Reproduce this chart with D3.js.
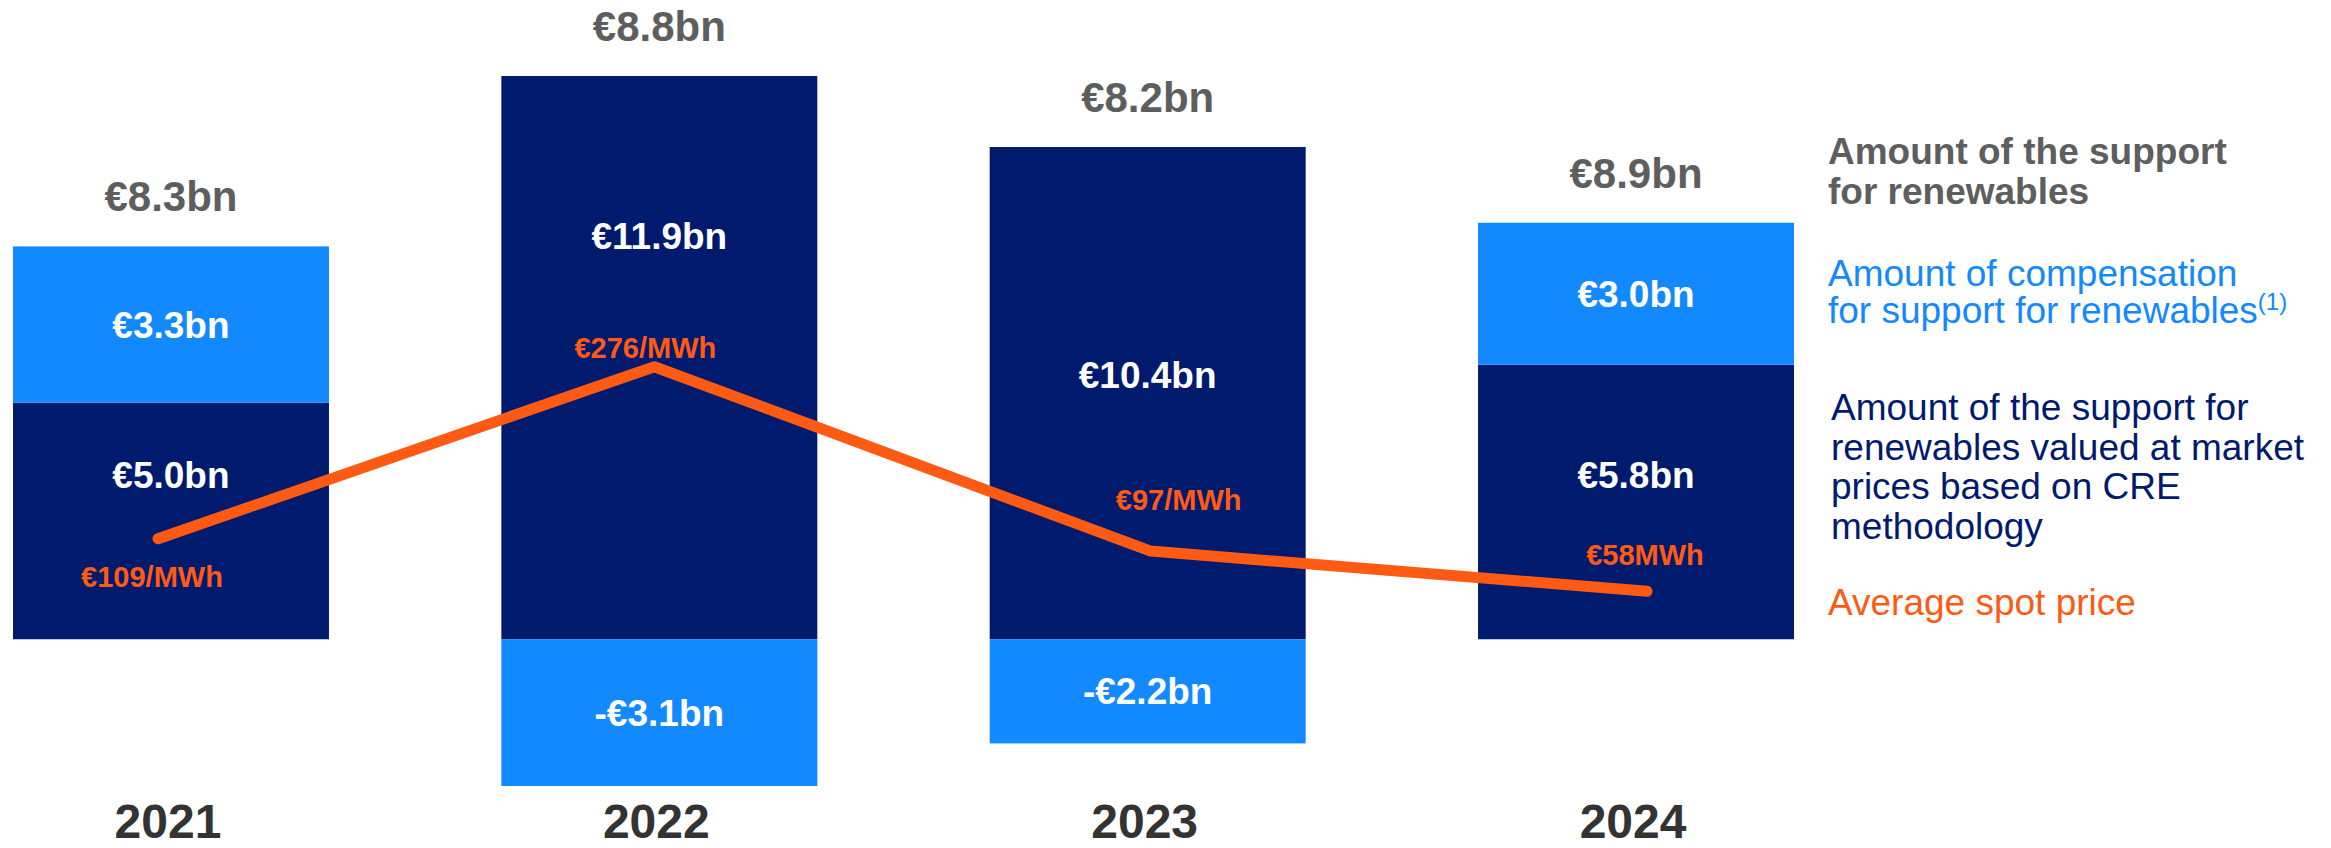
<!DOCTYPE html>
<html>
<head>
<meta charset="utf-8">
<script src="https://cdn.jsdelivr.net/npm/d3@7/dist/d3.min.js"></script>
<style>
  html, body { margin: 0; padding: 0; background: #ffffff; }
  svg { display: block; }
  text { font-family: "Liberation Sans", Arial, Helvetica, sans-serif; }
</style>
</head>
<body>
<svg id="chart" width="2331" height="848"></svg>
<script>
// ---------------- data ----------------
const years = ["2021", "2022", "2023", "2024"];
const marketValue = [5.0, 11.9, 10.4, 5.8];        // support valued at market prices (bn €)
const compensation = [3.3, -3.1, -2.2, 3.0];       // compensation for support (bn €)
const totalSupport = [8.3, 8.8, 8.2, 8.9];         // total support (bn €)
const spotPrice = [109, 276, 97, 58];              // average spot price (€/MWh)
const totalLabels = ["€8.3bn", "€8.8bn", "€8.2bn", "€8.9bn"];
const marketLabels = ["€5.0bn", "€11.9bn", "€10.4bn", "€5.8bn"];
const compLabels = ["€3.3bn", "-€3.1bn", "-€2.2bn", "€3.0bn"];
const priceLabels = ["€109/MWh", "€276/MWh", "€97/MWh", "€58MWh"];

// ---------------- layout / styles ----------------
const C = {
  navy: "#001A6E",
  blue: "#1289FF",
  orange: "#FF5A14",
  gray: "#5E5E5E",
  year: "#333333"
};
// label placements (annotation layout, not data)
const marketLabelAt = [3.2, 8.25, 5.3, 3.2];                 // baseline position in bn units
const priceLabelOffset = [[-6, 48], [-9, -9], [28, -41], [-2, -26]]; // px from line point

const svg = d3.select("#chart");

const x = d3.scaleBand().domain(years).range([13, 1794]).paddingInner(0.353).paddingOuter(0);
const y = d3.scaleLinear().domain([-3.1, 11.9]).range([786, 76]);
const xLine = d3.scalePoint().domain(years).range([158, 1647]);
const yPrice = d3.scaleLinear().domain([0, 300]).range([651, 342]);

const rows = years.map((yr, i) => ({
  year: yr,
  market: marketValue[i],
  comp: compensation[i],
  total: totalSupport[i],
  price: spotPrice[i],
  i
}));

// dark segments (market value)
svg.append("g").selectAll("rect").data(rows).join("rect")
  .attr("x", d => x(d.year))
  .attr("width", x.bandwidth())
  .attr("y", d => y(d.market))
  .attr("height", d => y(0) - y(d.market))
  .attr("fill", C.navy);

// light segments (compensation)
const compTop = d => d.comp >= 0 ? d.market + d.comp : 0;
const compBot = d => d.comp >= 0 ? d.market : d.comp;
svg.append("g").selectAll("rect").data(rows).join("rect")
  .attr("x", d => x(d.year))
  .attr("width", x.bandwidth())
  .attr("y", d => y(compTop(d)))
  .attr("height", d => y(compBot(d)) - y(compTop(d)))
  .attr("fill", C.blue);

// spot price line
const line = d3.line().x(d => xLine(d.year)).y(d => yPrice(d.price));
svg.append("path").datum(rows)
  .attr("d", line)
  .attr("fill", "none")
  .attr("stroke", C.orange)
  .attr("stroke-width", 11)
  .attr("stroke-linecap", "round")
  .attr("stroke-linejoin", "round");

const cx = d => x(d.year) + x.bandwidth() / 2;

// total labels above bars
svg.append("g").selectAll("text").data(rows).join("text")
  .attr("x", cx)
  .attr("y", d => y(Math.max(d.market, d.market + d.comp)) - 35)
  .attr("text-anchor", "middle")
  .attr("font-size", 42).attr("font-weight", "bold")
  .attr("fill", C.gray)
  .text(d => totalLabels[d.i]);

// market value labels
svg.append("g").selectAll("text").data(rows).join("text")
  .attr("x", cx)
  .attr("y", d => y(marketLabelAt[d.i]))
  .attr("text-anchor", "middle")
  .attr("font-size", 37).attr("font-weight", "bold")
  .attr("fill", "#ffffff")
  .text(d => marketLabels[d.i]);

// compensation labels (centered in segment)
svg.append("g").selectAll("text").data(rows).join("text")
  .attr("x", cx)
  .attr("y", d => (y(compTop(d)) + y(compBot(d))) / 2 + 13)
  .attr("text-anchor", "middle")
  .attr("font-size", 37).attr("font-weight", "bold")
  .attr("fill", "#ffffff")
  .text(d => compLabels[d.i]);

// price labels
svg.append("g").selectAll("text").data(rows).join("text")
  .attr("x", d => xLine(d.year) + priceLabelOffset[d.i][0])
  .attr("y", d => yPrice(d.price) + priceLabelOffset[d.i][1])
  .attr("text-anchor", "middle")
  .attr("font-size", 29).attr("font-weight", "bold")
  .attr("fill", C.orange)
  .text(d => priceLabels[d.i]);

// year labels (x axis)
svg.append("g").selectAll("text").data(rows).join("text")
  .attr("x", d => cx(d) - 3)
  .attr("y", 838)
  .attr("text-anchor", "middle")
  .attr("font-size", 48).attr("font-weight", "bold")
  .attr("fill", C.year)
  .text(d => d.year);

// legend
const legend = svg.append("g").attr("font-size", 37);
const addLines = (lines, x0, y0, color, weight) => {
  lines.forEach((t, k) => {
    legend.append("text")
      .attr("x", x0).attr("y", y0 + k * 39.5)
      .attr("fill", color).attr("font-weight", weight)
      .text(t);
  });
};
addLines(["Amount of the support", "for renewables"], 1828, 164, C.gray, "bold");
addLines(["Amount of compensation"], 1828, 286, C.blue, "normal");
const l2 = legend.append("text").attr("x", 1828).attr("y", 323).attr("fill", C.blue);
l2.append("tspan").text("for support for renewables");
l2.append("tspan").attr("font-size", 24).attr("dy", -13).text("(1)");
addLines(["Amount of the support for", "renewables valued at market", "prices based on CRE", "methodology"], 1831, 420, C.navy, "normal");
addLines(["Average spot price"], 1828, 615, C.orange, "normal");
</script>
</body>
</html>
